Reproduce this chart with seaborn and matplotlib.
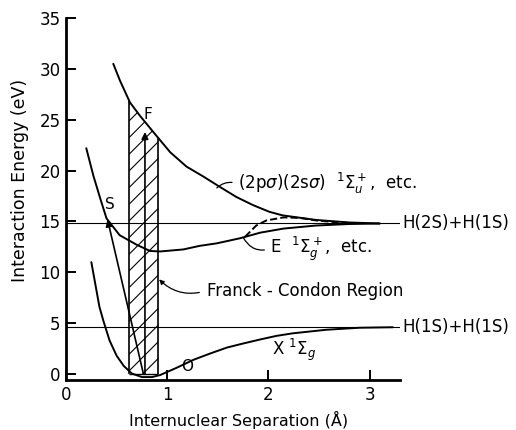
import numpy as np
import pandas as pd
import matplotlib
matplotlib.use("Agg")
import matplotlib.pyplot as plt
import seaborn as sns

# ------------------------------------------------------------
# Potential curves of H2
# ------------------------------------------------------------
# ground state X 1Sigma_g
ground_r = [0.25, 0.29, 0.33, 0.37, 0.43, 0.50, 0.57, 0.65, 0.75, 0.85, 0.93,
            1.09, 1.26, 1.42, 1.59, 1.75, 1.92, 2.08, 2.24, 2.57, 2.90, 3.23]
ground_e = [11.0, 8.8, 6.6, 5.2, 3.3, 1.8, 0.8, 0.05, -0.3, -0.3, -0.1,
            0.6, 1.4, 2.0, 2.6, 3.0, 3.4, 3.75, 4.0, 4.35, 4.55, 4.6]

# E 1Sigma_g+ state
estate_r = [0.20, 0.27, 0.34, 0.40, 0.53, 0.70, 0.83, 0.93, 1.16, 1.32, 1.49,
            1.72, 1.92, 2.15, 2.47, 2.80, 3.10]
estate_e = [22.2, 19.5, 17.2, 15.3, 13.65, 12.7, 12.1, 12.05, 12.25, 12.6, 12.85,
            13.35, 13.9, 14.3, 14.6, 14.75, 14.8]

# dashed branch near the E state
dash_r = [1.77, 1.88, 1.98, 2.15, 2.31, 2.47, 2.64, 2.80]
dash_e = [13.5, 14.6, 15.1, 15.4, 15.35, 15.1, 14.95, 14.85]

# (2p sigma)(2s sigma) 1Sigma_u+ state
upper_r = [0.467, 0.533, 0.632, 0.73, 0.862, 1.03, 1.19, 1.36, 1.52, 1.685,
           1.85, 2.01, 2.14, 2.47, 2.80, 3.10]
upper_e = [30.5, 28.85, 26.7, 25.4, 23.8, 21.8, 20.4, 19.4, 18.4, 17.4,
           16.6, 15.95, 15.6, 15.15, 14.9, 14.8]

# dissociation limits
limit_e = [14.8, 4.6]
limit_labels = ["H(2S)+H(1S)", "H(1S)+H(1S)"]

# Franck-Condon region
fc_left, fc_mid, fc_right = 0.625, 0.78, 0.911

xticks = [0, 1, 2, 3]
yticks = [0, 5, 10, 15, 20, 25, 30, 35]

# ------------------------------------------------------------
sns.set_style("ticks")
plt.rcParams["font.family"] = ["DejaVu Sans"]
plt.rcParams["hatch.linewidth"] = 0.8
for key in ("text.color", "axes.labelcolor", "axes.edgecolor",
            "xtick.color", "ytick.color"):
    plt.rcParams[key] = "black"

fig = plt.figure(figsize=(5.16, 4.30), dpi=100)
ax = fig.add_axes([0.128, 0.116, 0.647, 0.842])

curves = [(ground_r, ground_e, "-"), (estate_r, estate_e, "-"),
          (upper_r, upper_e, "-"), (dash_r, dash_e, "--")]
for r, e, ls in curves:
    df = pd.DataFrame({"r": r, "E": e})
    sns.lineplot(data=df, x="r", y="E", sort=False, color="black",
                 lw=1.4, linestyle=ls, ax=ax)

ax.hlines(limit_e, 0, 3.3, color="black", lw=0.8)
for y, lab in zip(limit_e, limit_labels):
    ax.text(3.32, y, lab, ha="left", va="center", fontsize=12)

# hatched Franck-Condon band, bounded above by the upper curve
fc_x = np.linspace(fc_left, fc_right, 60)
fc_top = np.interp(fc_x, upper_r, upper_e)
ax.fill_between(fc_x, 0, fc_top, hatch="//", facecolor="none",
                edgecolor="black", lw=0)
for xv in (fc_left, fc_right):
    ax.vlines(xv, 0, np.interp(xv, upper_r, upper_e), color="black", lw=1.2)
ax.hlines(0, fc_left, fc_right, color="black", lw=1.0)

# transitions
ax.annotate("", xy=(fc_mid, 23.8), xytext=(fc_mid, 0),
            arrowprops=dict(arrowstyle="-|>", color="black", lw=1.2,
                            mutation_scale=10, shrinkA=0, shrinkB=0))
ax.annotate("", xy=(0.41, 15.2), xytext=(0.765, 0),
            arrowprops=dict(arrowstyle="-|>", color="black", lw=1.2,
                            mutation_scale=10, shrinkA=0, shrinkB=0))
ax.text(0.43, 16.7, "S", fontsize=11, ha="center", va="center")
ax.text(0.81, 25.5, "F", fontsize=11, ha="center", va="center")
ax.text(1.2, 0.7, "O", fontsize=11, ha="center", va="center")
ax.text(2.04, 2.4, r"X $^1\Sigma_g$", fontsize=12, ha="left", va="center")

# state labels with leader lines
ax.annotate(r"(2p$\sigma$)(2s$\sigma$)  $^1\Sigma_u^+$,  etc.", xy=(1.49, 18.3),
            xytext=(1.70, 18.7), fontsize=12, va="center",
            arrowprops=dict(arrowstyle="-", color="black", lw=0.9, relpos=(0, 0.5),
                            connectionstyle="arc3,rad=0.3", shrinkA=2, shrinkB=0))
ax.annotate(r"E  $^1\Sigma_g^+$,  etc.", xy=(1.75, 13.45),
            xytext=(2.02, 12.3), fontsize=12, va="center",
            arrowprops=dict(arrowstyle="-", color="black", lw=0.9, relpos=(0, 0.5),
                            connectionstyle="arc3,rad=-0.4", shrinkA=2, shrinkB=0))
ax.annotate("Franck - Condon Region", xy=(0.92, 9.3),
            xytext=(1.39, 8.2), fontsize=12, va="center",
            arrowprops=dict(arrowstyle="-|>", color="black", lw=0.9, relpos=(0, 0.5),
                            mutation_scale=7,
                            connectionstyle="arc3,rad=-0.3", shrinkA=3, shrinkB=0))

ax.set_xlim(0, 3.3)
ax.set_ylim(-0.6, 35)
ax.set_xticks(xticks)
ax.set_yticks(yticks)
ax.tick_params(direction="in", length=7, width=1.4, labelsize=12, pad=4)
ax.set_xlabel("Internuclear Separation (Å)", fontsize=11.5)
ax.set_ylabel("Interaction Energy (eV)", fontsize=12.5)
ax.xaxis.set_label_coords(0.518, -0.085)
ax.yaxis.set_label_coords(-0.11, 0.552)
sns.despine(ax=ax)
for s in ("left", "bottom"):
    ax.spines[s].set_linewidth(2.0)

fig.savefig("out.png", dpi=100)
